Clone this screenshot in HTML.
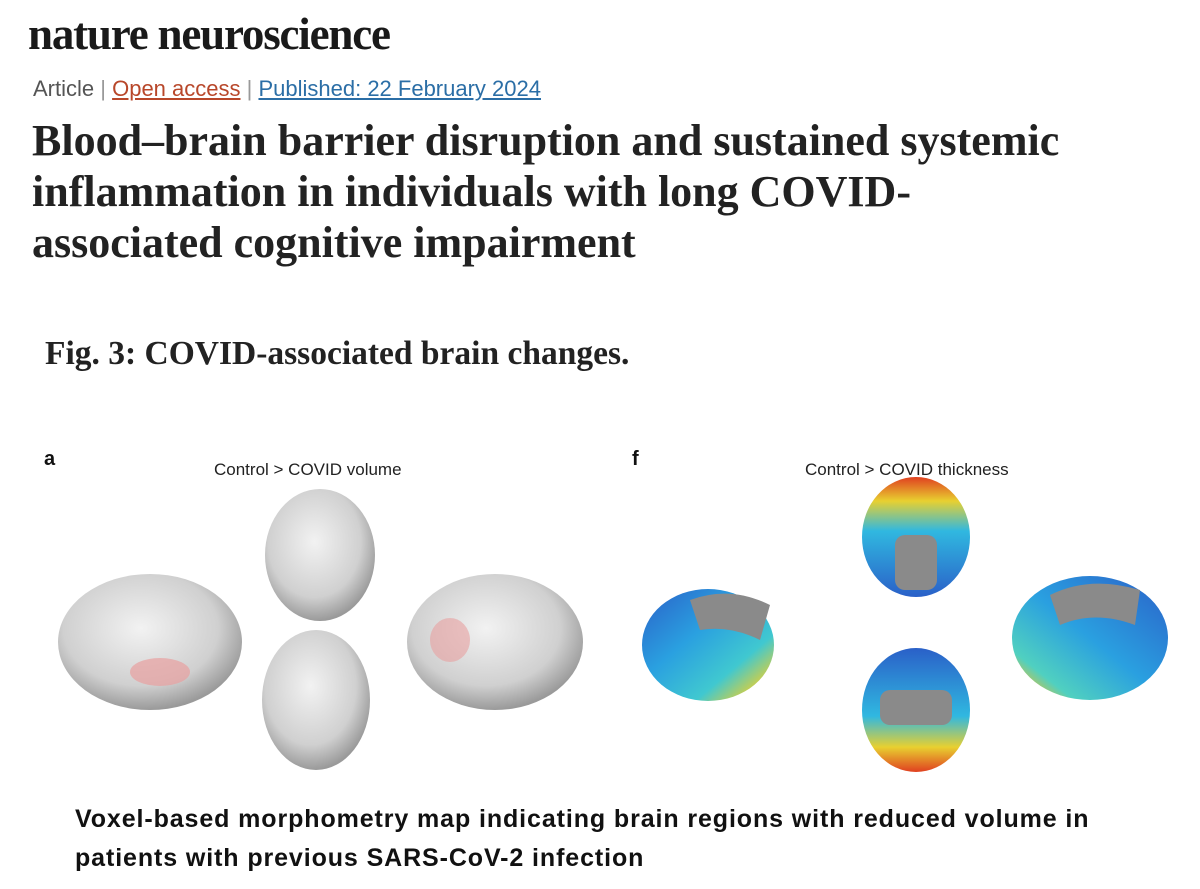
<!DOCTYPE html>
<html><head><meta charset="utf-8"><style>
body{margin:0;width:1200px;height:889px;background:#fff;position:relative;overflow:hidden;font-family:"Liberation Sans",sans-serif;color:#111}
.a{position:absolute;white-space:nowrap}
</style></head><body>
<div class="a" style="left:28px;top:8px;font-family:'Liberation Serif',serif;font-weight:bold;font-size:45px;letter-spacing:-1.2px;color:#1a1a1a">nature neuroscience</div>
<div class="a" style="left:33px;top:76px;font-size:22px;color:#555">Article <span style="color:#999">|</span> <span style="color:#b8472a;text-decoration:underline">Open access</span> <span style="color:#999">|</span> <span style="color:#2b6ea6;text-decoration:underline">Published: 22 February 2024</span></div>
<div class="a" style="left:32px;top:115px;font-family:'Liberation Serif',serif;font-weight:bold;font-size:44px;line-height:51px;color:#222">Blood–brain barrier disruption and sustained systemic<br>inflammation in individuals with long COVID-<br>associated cognitive impairment</div>
<div class="a" style="left:45px;top:335px;font-family:'Liberation Serif',serif;font-weight:bold;font-size:33.5px;color:#222">Fig. 3: COVID-associated brain changes.</div>
<div class="a" style="left:44px;top:448px;font-weight:bold;font-size:20px">a</div>
<div class="a" style="left:214px;top:460px;font-size:17px;color:#222">Control &gt; COVID volume</div>
<div class="a" style="left:632px;top:448px;font-weight:bold;font-size:20px">f</div>
<div class="a" style="left:805px;top:460px;font-size:17px;color:#222">Control &gt; COVID thickness</div>
<svg class="a" style="left:0;top:0" width="1200" height="889">
<defs>
<radialGradient id="g" cx="45%" cy="40%" r="60%"><stop offset="0" stop-color="#f2f2f2"/><stop offset="0.7" stop-color="#d0d0d0"/><stop offset="1" stop-color="#9a9a9a"/></radialGradient>
<linearGradient id="c" x1="0" y1="0" x2="1" y2="1"><stop offset="0" stop-color="#2a60c8"/><stop offset="0.4" stop-color="#2aa0e0"/><stop offset="0.7" stop-color="#40c8d0"/><stop offset="0.9" stop-color="#e8d030"/><stop offset="1" stop-color="#e03020"/></linearGradient>
<linearGradient id="c2" x1="1" y1="0" x2="0" y2="1"><stop offset="0" stop-color="#2a60c8"/><stop offset="0.5" stop-color="#2aa0e0"/><stop offset="0.8" stop-color="#50d0c0"/><stop offset="0.92" stop-color="#e8c030"/><stop offset="1" stop-color="#e03020"/></linearGradient>
<linearGradient id="c3" x1="0" y1="0" x2="0" y2="1"><stop offset="0" stop-color="#e04020"/><stop offset="0.2" stop-color="#e8d030"/><stop offset="0.45" stop-color="#30b8e0"/><stop offset="1" stop-color="#2a60c8"/></linearGradient>
</defs>
<ellipse cx="150" cy="642" rx="92" ry="68" fill="url(#g)"/>
<ellipse cx="160" cy="672" rx="30" ry="14" fill="#e8a0a0" opacity=".7"/>
<ellipse cx="320" cy="555" rx="55" ry="66" fill="url(#g)"/>
<ellipse cx="316" cy="700" rx="54" ry="70" fill="url(#g)"/>
<ellipse cx="495" cy="642" rx="88" ry="68" fill="url(#g)"/>
<ellipse cx="450" cy="640" rx="20" ry="22" fill="#e8a0a0" opacity=".6"/>
<ellipse cx="708" cy="645" rx="66" ry="56" fill="url(#c)"/>
<path d="M690 600 Q730 585 770 605 L760 640 Q730 625 700 630Z" fill="#8a8a8a"/>
<ellipse cx="916" cy="537" rx="54" ry="60" fill="url(#c3)"/>
<rect x="895" y="535" width="42" height="55" rx="10" fill="#8a8a8a"/>
<ellipse cx="916" cy="710" rx="54" ry="62" fill="url(#c3)" transform="rotate(180 916 710)"/>
<rect x="880" y="690" width="72" height="35" rx="10" fill="#8a8a8a"/>
<ellipse cx="1090" cy="638" rx="78" ry="62" fill="url(#c2)"/>
<path d="M1050 595 Q1090 575 1140 590 L1135 625 Q1095 610 1060 625Z" fill="#8a8a8a"/>
</svg>
<div class="a" style="left:75px;top:800px;font-weight:bold;font-size:25px;letter-spacing:0.9px;line-height:39px;color:#111">Voxel-based morphometry map indicating brain regions with reduced volume in<br>patients with previous SARS-CoV-2 infection</div>
</body></html>
